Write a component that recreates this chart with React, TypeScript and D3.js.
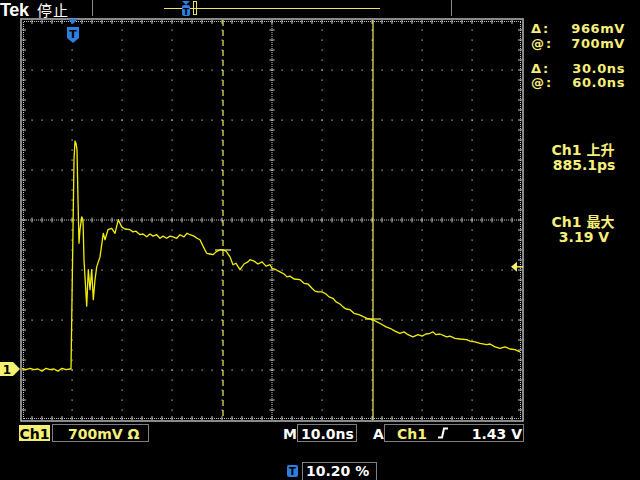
import React from "react";
import * as d3 from "d3";

// Waveform samples: time (ns, relative to trigger) and voltage (V)
const timeNs: number[] = [
  -10.2, -9.4, -8.6, -7.8, -7.0, -6.2, -5.4, -4.6, -3.8, -3.0, -2.2, -1.4, -0.6, -0.4,
  -0.2, 0.2, 0.4, 0.6, 0.8, 1.0, 1.2, 1.4, 1.74, 2.0, 2.2, 2.74, 3.06, 3.4, 3.74, 4.06,
  4.4, 4.74, 5.4, 6.06, 6.4, 7.0, 7.74, 8.4, 9.06, 9.74, 10.4, 11.4, 12.0, 12.6, 13.4,
  14.0, 14.74, 15.4, 16.0, 16.74, 17.4, 18.0, 18.74, 19.4, 20.0, 20.74, 21.4, 22.2, 22.8,
  23.4, 24.2, 24.8, 25.4, 26.0, 26.74, 27.4, 28.0, 28.6, 29.4, 30.0, 30.6, 31.4, 32.0,
  32.6, 33.4, 34.2, 35.0, 35.4, 36.2, 37.0, 37.8, 38.6, 39.4, 39.8, 40.6, 41.4, 42.2,
  42.8, 43.4, 44.2, 45.4, 46.2, 47.0, 47.8, 48.4, 49.0, 49.8, 50.6, 51.2, 52.0, 52.6,
  53.4, 54.0, 54.6, 55.4, 56.2, 57.2, 58.8, 60.0, 60.8, 61.6, 62.6, 63.4, 64.4, 65.4,
  66.2, 67.0, 68.0, 69.0, 69.8, 70.6, 71.4, 72.0, 72.6, 73.4, 74.74, 75.4, 76.4, 77.4,
  78.74, 79.4, 80.4, 81.4, 82.74, 83.4, 84.4, 85.4, 86.4, 87.4, 88.4, 89.4,
];
const voltV: number[] = [
  0.01, -0.01, 0.01, -0.01, 0.0, -0.03, 0.01, -0.01, 0.0, -0.03, 0.01, -0.01, 0.0, 0.0,
  0.97, 2.93, 3.19, 3.16, 3.07, 2.37, 1.76, 1.95, 2.13, 2.09, 1.53, 0.88, 1.39, 1.11, 1.39, 0.97,
  1.25, 1.43, 1.57, 1.9, 1.81, 1.95, 1.97, 1.9, 2.09, 1.99, 1.96, 1.95, 1.92, 1.93, 1.88,
  1.89, 1.85, 1.89, 1.86, 1.88, 1.83, 1.86, 1.83, 1.86, 1.85, 1.83, 1.88, 1.85, 1.9,
  1.88, 1.86, 1.83, 1.81, 1.72, 1.62, 1.61, 1.6, 1.64, 1.67, 1.67, 1.65, 1.57, 1.46,
  1.48, 1.39, 1.47, 1.5, 1.53, 1.51, 1.47, 1.5, 1.44, 1.46, 1.41, 1.39, 1.36, 1.33,
  1.29, 1.3, 1.26, 1.25, 1.2, 1.19, 1.13, 1.09, 1.08, 1.08, 1.05, 1.01, 0.99, 0.94,
  0.91, 0.87, 0.84, 0.83, 0.78, 0.76, 0.71, 0.69, 0.66, 0.63, 0.59, 0.57, 0.53, 0.5,
  0.52, 0.48, 0.45, 0.48, 0.46, 0.49, 0.5, 0.52, 0.48, 0.49, 0.45, 0.46, 0.43, 0.42,
  0.41, 0.39, 0.38, 0.36, 0.34, 0.35, 0.31, 0.29, 0.31, 0.28, 0.27, 0.24,
];

const cursorTimes: number[] = [30.0, 60.0]; // ns
const cursorVolts: number[] = [1.666, 0.7]; // V
const readoutLabels: string[] = ["Δ:", "@:", "Δ:", "@:"];
const readoutValues: string[] = ["966mV", "700mV", "30.0ns", "60.0ns"];
const measTitles: string[] = ["Ch1 上升", "Ch1 最大"];
const measValues: string[] = ["885.1ps", "3.19 V"];
const triggerLevel = 1.43; // V
const timeDomain: [number, number] = [-10.2, 89.8];
const voltDomain: [number, number] = [-0.714, 4.886];

const W = 640, H = 480;
const PL = 22, PR = 522, PT = 20, PB = 420;
const WAVE = "#f2f000";
const CUR = "#f4f060";
const TXT = "#f6f07a";
const GRID = "#c4c4c4";
const BLUE = "#2a7fe0";
const FONT = "DejaVu Sans, sans-serif";

export default function App() {
  const x = d3.scaleLinear().domain(timeDomain).range([PL, PR]);
  const y = d3.scaleLinear().domain(voltDomain).range([PB, PT]);
  const pts: [number, number][] = timeNs.map((t, i) => [t, voltV[i]]);
  const line = d3.line<[number, number]>().x((d) => x(d[0])).y((d) => y(d[1]));

  const cx = (PL + PR) / 2;
  const cy = (PT + PB) / 2;
  const vLines = d3.range(1, 10).map((i) => PL + i * 50);
  const hLines = d3.range(1, 8).map((j) => PT + j * 50);

  const dots: JSX.Element[] = [];
  vLines.forEach((gx) => {
    if (gx === cx) return;
    d3.range(PT + 10, PB, 10).forEach((gy) =>
      dots.push(<rect key={`v${gx}-${gy}`} x={gx - 0.5} y={gy - 0.5} width={1.2} height={1.2} fill={GRID} />)
    );
  });
  hLines.forEach((gy) => {
    if (gy === cy) return;
    d3.range(PL + 10, PR, 10).forEach((gx) =>
      dots.push(<rect key={`h${gx}-${gy}`} x={gx - 0.5} y={gy - 0.5} width={1.2} height={1.2} fill={GRID} />)
    );
  });
  d3.range(PL, PR, 2).forEach((gx) =>
    dots.push(<rect key={`cx${gx}`} x={gx} y={cy - 0.5} width={1} height={1} fill={GRID} />)
  );
  d3.range(PT, PB, 2).forEach((gy) =>
    dots.push(<rect key={`cy${gy}`} x={cx - 0.5} y={gy} width={1} height={1} fill={GRID} />)
  );
  d3.range(PL + 10, PR, 10).forEach((gx) =>
    dots.push(<rect key={`tx${gx}`} x={gx - 0.5} y={cy - 2.5} width={1} height={5} fill={GRID} />)
  );
  d3.range(PT + 10, PB, 10).forEach((gy) =>
    dots.push(<rect key={`ty${gy}`} x={cx - 2.5} y={gy - 0.5} width={5} height={1} fill={GRID} />)
  );
  d3.range(PL + 2, PR, 2).forEach((gx) => {
    dots.push(<rect key={`ft${gx}`} x={gx} y={PT + 1} width={1} height={1} fill={GRID} />);
    dots.push(<rect key={`fb${gx}`} x={gx} y={PB - 2} width={1} height={1} fill={GRID} />);
  });
  d3.range(PT + 2, PB, 2).forEach((gy) => {
    dots.push(<rect key={`fl${gy}`} x={PL + 1} y={gy} width={1} height={1} fill={GRID} />);
    dots.push(<rect key={`fr${gy}`} x={PR - 2} y={gy} width={1} height={1} fill={GRID} />);
  });
  d3.range(PL + 10, PR, 10).forEach((gx) => {
    dots.push(<rect key={`ftt${gx}`} x={gx - 0.5} y={PT} width={1} height={4} fill={GRID} />);
    dots.push(<rect key={`fbt${gx}`} x={gx - 0.5} y={PB - 4} width={1} height={4} fill={GRID} />);
  });
  d3.range(PT + 10, PB, 10).forEach((gy) => {
    dots.push(<rect key={`flt${gy}`} x={PL} y={gy - 0.5} width={4} height={1} fill={GRID} />);
    dots.push(<rect key={`frt${gy}`} x={PR - 4} y={gy - 0.5} width={4} height={1} fill={GRID} />);
  });

  const trigX = x(0);
  const gndY = y(0);
  const trigY = y(triggerLevel);

  return (
    <svg width={W} height={H} style={{ position: "absolute", left: 0, top: 0, background: "#000" }} fontFamily={FONT}>
      <rect x={0} y={0} width={W} height={H} fill="#000" />
      {/* top bar */}
      <text x={0} y={16} fill="#fff" fontSize={18} fontWeight="bold" fontFamily="Liberation Sans, Arial, sans-serif" letterSpacing={-0.3}>Tek</text>
      <text x={37} y={16} fill="#fff" fontSize={15} letterSpacing={1} fontFamily="Noto Sans CJK SC, sans-serif">停止</text>
      <line x1={92.5} y1={0} x2={92.5} y2={16} stroke="#888" strokeWidth={1} />
      <line x1={451.5} y1={0} x2={451.5} y2={16} stroke="#888" strokeWidth={1} />
      <line x1={164} y1={8.5} x2={380} y2={8.5} stroke="#e8e860" strokeWidth={1} />
      <rect x={193.5} y={1.5} width={3} height={13} fill="none" stroke="#e8e860" strokeWidth={1} />
      <path d="M182,1 L190,1 L186,5 Z" fill={BLUE} />
      <rect x={182} y={5} width={8} height={11} rx={2} fill={BLUE} />
      <text x={186} y={14.5} fill="#000" fontSize={9} fontWeight="bold" textAnchor="middle">T</text>

      {/* graticule */}
      <rect x={PL - 1} y={PT - 1} width={PR - PL + 2} height={PB - PT + 2} fill="none" stroke="#b8b8b8" strokeWidth={1.5} />
      {dots}

      {/* cursors */}
      <line x1={x(cursorTimes[0])} y1={PT} x2={x(cursorTimes[0])} y2={PB} stroke={CUR} strokeWidth={1.2} strokeDasharray="6,4" />
      <line x1={x(cursorTimes[1])} y1={PT} x2={x(cursorTimes[1])} y2={PB} stroke={CUR} strokeWidth={1.2} />
      {cursorTimes.map((t, i) => (
        <line key={`ch${i}`} x1={x(t) - 8} x2={x(t) + 8} y1={y(cursorVolts[i])} y2={y(cursorVolts[i])} stroke={CUR} strokeWidth={1.2} />
      ))}

      {/* waveform */}
      <path d={line(pts) ?? ""} fill="none" stroke={WAVE} strokeWidth={1.3} strokeLinejoin="round" />

      {/* trigger position marker */}
      <path d={`M${trigX - 5},${PT - 1} L${trigX + 5},${PT - 1} L${trigX},${PT + 4} Z`} fill={BLUE} />
      <path d={`M${trigX - 6},${PT + 7} L${trigX + 6},${PT + 7} L${trigX + 6},${PT + 18} L${trigX},${PT + 23} L${trigX - 6},${PT + 18} Z`} fill={BLUE} />
      <text x={trigX} y={PT + 18} fill="#000" fontSize={11} fontWeight="bold" textAnchor="middle">T</text>

      {/* channel ground marker */}
      <path d={`M0,${gndY - 7} L13,${gndY - 7} L20,${gndY} L13,${gndY + 7} L0,${gndY + 7} Z`} fill="#f4f070" />
      <text x={7} y={gndY + 5} fill="#000" fontSize={12} fontWeight="bold" textAnchor="middle">1</text>

      {/* trigger level marker */}
      <path d={`M${PR - 11},${trigY} L${PR - 5},${trigY - 5} L${PR - 5},${trigY + 5} Z`} fill="#f4f070" />
      <line x1={PR - 5} x2={PR + 1} y1={trigY} y2={trigY} stroke="#f4f070" strokeWidth={1.5} />

      {/* right readouts */}
      {readoutLabels.map((l, i) => {
        const by = [33, 48, 73, 87][i];
        return (
          <g key={`ro${i}`}>
            <text x={531} y={by} fill={TXT} fontSize={13} fontWeight="bold" letterSpacing={2}>{l}</text>
            <text x={625} y={by} fill={TXT} fontSize={13} fontWeight="bold" letterSpacing={0.6} textAnchor="end">{readoutValues[i]}</text>
          </g>
        );
      })}
      {measTitles.map((m, i) => (
        <g key={`m${i}`}>
          <text x={583} y={[155, 227][i]} fill={TXT} fontSize={14} fontWeight="bold" textAnchor="middle" fontFamily="DejaVu Sans, Noto Sans CJK SC, sans-serif">{m}</text>
          <text x={584} y={[170, 242][i]} fill={TXT} fontSize={14} fontWeight="bold" textAnchor="middle">{measValues[i]}</text>
        </g>
      ))}

      {/* bottom status */}
      <rect x={19} y={425} width={31} height={16} fill="#f4f070" />
      <text x={34.5} y={438.5} fill="#000" fontSize={14} fontWeight="bold" textAnchor="middle">Ch1</text>
      <rect x={52.5} y={424.5} width={96} height={17} fill="none" stroke="#808080" strokeWidth={1} />
      <text x={68} y={438.5} fill={TXT} fontSize={14} fontWeight="bold">700mV Ω</text>

      <text x={283} y={438.5} fill="#fff" fontSize={14} fontWeight="bold">M</text>
      <rect x={297.5} y={424.5} width={59} height={17} fill="none" stroke="#808080" strokeWidth={1} />
      <text x={301} y={438.5} fill="#fff" fontSize={14} fontWeight="bold">10.0ns</text>

      <text x={373} y={438.5} fill="#fff" fontSize={14} fontWeight="bold">A</text>
      <rect x={384.5} y={424.5} width={139} height={17} fill="none" stroke="#808080" strokeWidth={1} />
      <text x={397} y={438.5} fill={TXT} fontSize={14} fontWeight="bold">Ch1</text>
      <path d="M438,437.5 L442,437.5 L444,428.5 L448,428.5" fill="none" stroke="#fff" strokeWidth={2} />
      <text x={522} y={438.5} fill="#fff" fontSize={14} fontWeight="bold" textAnchor="end">{`${triggerLevel.toFixed(2)} V`}</text>

      <rect x={287} y={465} width={11} height={12} rx={2} fill={BLUE} />
      <text x={292.5} y={475} fill="#000" fontSize={10} fontWeight="bold" textAnchor="middle">T</text>
      <rect x={302.5} y={462.5} width={74} height={20} fill="none" stroke="#808080" strokeWidth={1} />
      <text x={306} y={476} fill="#fff" fontSize={14} fontWeight="bold">10.20 %</text>
    </svg>
  );
}
